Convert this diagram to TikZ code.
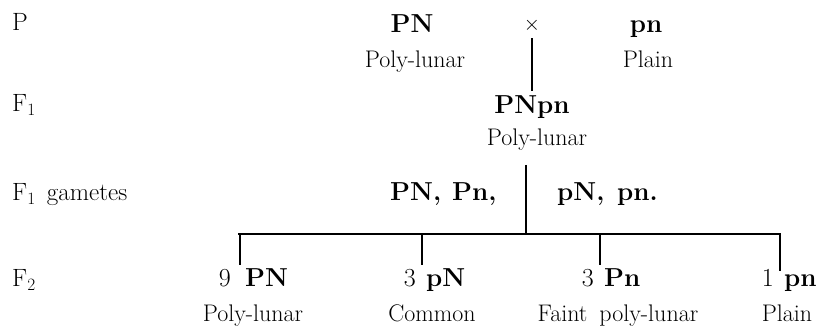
\documentclass[tikz,border=0pt]{standalone}
\usepackage{fontspec}

\tikzset{
  gen/.style={inner sep=0pt, anchor=base, font=\fontsize{26}{30}\selectfont\bfseries},
  note/.style={inner sep=0pt, anchor=base, font=\fontsize{24}{28}\selectfont},
  rowname/.style={inner sep=0pt, anchor=base west, font=\fontsize{25}{29}\selectfont},
  count/.style={inner sep=0pt, anchor=base east, font=\fontsize{26}{30}\selectfont},
  stem/.style={line width=2pt},
  bar/.style={line width=2.6pt}
}

\begin{document}
\begin{tikzpicture}[x=1pt, y=-1pt]
\useasboundingbox (0,0) rectangle (824,328);
% row names
\node[rowname] (rP) at (12,31) {P};
\node[rowname] (rF1) at (12,112) {F$_1$};
\node[rowname] (rG) at (12,201) {F$_1$\hspace{0.45em}gametes};
\node[rowname] (rF2) at (12,287) {F$_2$};
% parents
\node[gen] (pPN) at (412,33) {PN};
\node[note] (pPNl) at (415,68) {Poly-lunar};
\node[inner sep=0pt, font=\fontsize{22}{26}\selectfont] (cross) at (532,25) {$\times$};
\node[gen] (ppn) at (646,33) {pn};
\node[note] (ppnl) at (648,68) {Plain};
% F1
\node[gen] (f1) at (532,114) {PNpn};
\node[note] (f1l) at (537,146) {Poly-lunar};
\draw[stem, shorten >=5pt] (cross.south) ++(0,6) coordinate (crossfoot) -- (crossfoot |- f1.north);
% gametes
\node[gen, anchor=base west] (gPN) at (390,201) {PN,};
\node[gen, anchor=base west] (gPn) at (452,201) {Pn,};
\node[gen, anchor=base west] (gpN) at (557,201) {pN,};
\node[gen, anchor=base west] (gpn) at (617,201) {pn.};
\coordinate (gtop) at (526,165);
\coordinate (gfoot) at (526,234);
\draw[stem] (gtop) -- (gfoot);
% F2 bar
\coordinate (barL) at (238,234);
\coordinate (barR) at (781,234);
\draw[bar] (barL) -- (barR);
\coordinate (j1) at (240,234);
\coordinate (j2) at (422,234);
\coordinate (j3) at (600,234);
\coordinate (j4) at (780,234);
% F2
\node[gen, anchor=base west] (f2a) at (245,287) {PN};
\node[count] (n1) at (231,287) {9};
\node[note] (f2al) at (253,322) {Poly-lunar};
\node[gen, anchor=base west] (f2b) at (426,287) {pN};
\node[count] (n2) at (416,287) {3};
\node[note] (f2bl) at (432,322) {Common};
\node[gen, anchor=base west] (f2c) at (604,287) {Pn};
\node[count] (n3) at (594,287) {3};
\node[note] (f2cl) at (618,322) {Faint\hspace{0.5em}poly-lunar};
\node[gen, anchor=base west] (f2d) at (784,287) {pn};
\node[count] (n4) at (774,287) {1};
\node[note] (f2dl) at (787,322) {Plain};
\draw[stem, shorten >=4pt] (j1) -- (j1 |- f2a.north);
\draw[stem, shorten >=4pt] (j2) -- (j2 |- f2b.north);
\draw[stem, shorten >=4pt] (j3) -- (j3 |- f2c.north);
\draw[stem, shorten >=4pt] (j4) -- (j4 |- f2d.north);
\end{tikzpicture}
\end{document}
